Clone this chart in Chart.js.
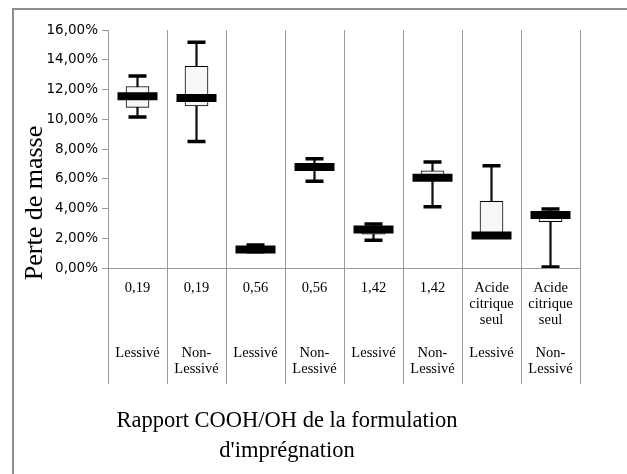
<!DOCTYPE html>
<html>
<head>
<meta charset="utf-8">
<script src="https://cdn.jsdelivr.net/npm/chart.js@4"></script>
<style>
  body { margin: 0; background: #fff; }
  #frame { position: absolute; left: 12px; top: 8px; width: 700px; height: 600px;
           border-left: 2px solid #8e8e8e; border-top: 2px solid #8e8e8e; }
  #wrap { position: absolute; left: 0; top: 0; width: 627px; height: 474px; }
</style>
</head>
<body>
<div id="frame"></div>
<div id="wrap"><canvas id="boxChart"></canvas></div>
<script>
// formulation (COOH/OH ratio) and washing state for each box
const groups = ['0,19', '0,19', '0,56', '0,56', '1,42', '1,42', 'Acide citrique seul', 'Acide citrique seul'];
const washing = ['Lessivé', 'Non-Lessivé', 'Lessivé', 'Non-Lessivé', 'Lessivé', 'Non-Lessivé', 'Lessivé', 'Non-Lessivé'];

// mass loss in %
const minVals = [10.15, 8.50, 1.10, 5.83, 1.86, 4.12, 2.15, 0.07];
const q1Vals  = [10.80, 10.89, 1.15, 6.60, 2.27, 5.90, 2.20, 3.11];
const medVals = [11.55, 11.43, 1.24, 6.79, 2.59, 6.06, 2.18, 3.56];
const q3Vals  = [12.20, 13.55, 1.35, 6.95, 2.80, 6.54, 4.48, 3.80];
const maxVals = [12.90, 15.17, 1.55, 7.35, 2.96, 7.13, 6.88, 3.97];

const yTicks = [0, 2, 4, 6, 8, 10, 12, 14, 16];

// multi-line category labels: group lines padded to 4 rows, then washing lines
const labels = groups.map((g, i) => {
    const top = g.split(' ');
    while (top.length < 4) top.push('');
    const bottom = washing[i].replace('-', '-\n').split('\n');
    return top.concat(bottom);
});

const gridGray = '#9a9a9a';

const axisTitles = {
    id: 'axisTitles',
    afterDraw(chart) {
        const ctx = chart.ctx;
        ctx.save();
        ctx.fillStyle = '#000';
        ctx.textAlign = 'center';
        ctx.textBaseline = 'middle';
        ctx.font = '22.5px "Liberation Serif"';
        ctx.fillText('Rapport COOH/OH de la formulation', 287, 421);
        ctx.fillText("d'imprégnation", 287, 451);
        ctx.translate(35, 203);
        ctx.rotate(-Math.PI / 2);
        ctx.font = '26px "Liberation Serif"';
        ctx.fillText('Perte de masse', 0, 0);
        ctx.restore();
    }
};

const ctx = document.getElementById('boxChart').getContext('2d');
new Chart(ctx, {
    data: {
        labels: labels,
        datasets: [
            {
                type: 'bar',
                label: 'whisker',
                data: minVals.map((v, i) => [v, maxVals[i]]),
                backgroundColor: '#111',
                barThickness: 1.6,
                grouped: false,
                order: 4,
            },
            {
                type: 'bar',
                label: 'box',
                data: q1Vals.map((v, i) => [v, q3Vals[i]]),
                backgroundColor: '#f7f7f7',
                borderColor: '#000',
                borderWidth: 1,
                borderSkipped: false,
                barThickness: 23,
                grouped: false,
                order: 3,
            },
            {
                type: 'line',
                label: 'max',
                data: maxVals,
                showLine: false,
                pointStyle: 'line',
                pointRadius: 9,
                pointHoverRadius: 9,
                pointBorderWidth: 3.5,
                pointHoverBorderWidth: 3.5,
                borderColor: '#000',
                order: 2,
            },
            {
                type: 'line',
                label: 'min',
                data: minVals,
                showLine: false,
                pointStyle: 'line',
                pointRadius: 9,
                pointHoverRadius: 9,
                pointBorderWidth: 3.5,
                pointHoverBorderWidth: 3.5,
                borderColor: '#000',
                order: 2,
            },
            {
                type: 'line',
                label: 'median',
                data: medVals,
                showLine: false,
                pointStyle: 'line',
                pointRadius: 20,
                pointHoverRadius: 20,
                pointBorderWidth: 8,
                pointHoverBorderWidth: 8,
                borderColor: '#000',
                order: 1,
            },
        ],
    },
    options: {
        responsive: true,
        maintainAspectRatio: false,
        animation: false,
        events: [],
        layout: { padding: { top: 30, left: 0, right: 47, bottom: 0 } },
        plugins: { legend: { display: false }, tooltip: { enabled: false } },
        scales: {
            x: {
                type: 'category',
                offset: true,
                grid: { offset: true, color: gridGray, lineWidth: 1, tickLength: 116 },
                border: { display: true, color: gridGray },
                ticks: {
                    autoSkip: false,
                    maxRotation: 0,
                    padding: -104,
                    color: '#000',
                    font: { family: '"Liberation Serif"', size: 14.5, lineHeight: 1.12 },
                },
                afterFit: scale => { scale.height = 206; },
            },
            y: {
                min: 0,
                max: 16,
                afterBuildTicks: scale => { scale.ticks = yTicks.map(v => ({ value: v })); },
                grid: { drawOnChartArea: false, drawTicks: true, tickLength: 6, color: gridGray },
                border: { display: true, color: gridGray },
                ticks: {
                    padding: 4,
                    color: '#000',
                    font: { family: '"DejaVu Sans"', size: 13.5 },
                    callback: v => v.toFixed(2).replace('.', ',') + '%',
                },
                afterFit: scale => { scale.width = 108; },
            },
        },
    },
    plugins: [axisTitles],
});
</script>
</body>
</html>
